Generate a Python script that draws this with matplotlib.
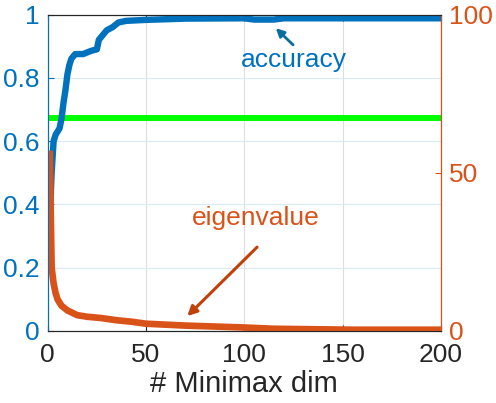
import matplotlib.pyplot as plt

plt.rcParams['font.family'] = ['Liberation Sans', 'DejaVu Sans']

# accuracy vs number of minimax dims (left axis)
acc_dim = [1, 2, 3, 4, 6, 7, 8, 9, 10, 11, 12, 14, 18, 22, 25, 26, 28, 30,
           33, 36, 40, 50, 70, 100, 105, 115, 120, 200]
acc_val = [0.34, 0.50, 0.60, 0.62, 0.64, 0.67, 0.72, 0.76, 0.81, 0.84, 0.86,
           0.875, 0.875, 0.885, 0.89, 0.92, 0.935, 0.95, 0.96, 0.975, 0.98,
           0.983, 0.987, 0.988, 0.984, 0.984, 0.988, 0.988]

# eigenvalue vs number of minimax dims (right axis)
eig_dim = [1, 2, 3, 4, 5, 7, 10, 15, 20, 27, 35, 43, 50, 70, 100, 115, 155, 200]
eig_val = [57, 20, 15, 12, 10, 8, 6.5, 5.0, 4.5, 4.1, 3.4, 2.9, 2.3, 1.7,
           1.1, 0.7, 0.4, 0.4]

# reference level (green)
ref_dim = [0.7, 200]
ref_val = [0.672, 0.672]

blue = '#0072BD'
orange = '#D95319'
dark = '#262626'

fig = plt.figure(figsize=(4.96, 4.03), dpi=100)
ax = fig.add_axes([0.0962, 0.1787, 0.7928, 0.7853])

ax.plot(ref_dim, ref_val, color='#00FF00', lw=4.3, solid_capstyle='butt', zorder=2)
ax.plot(acc_dim, acc_val, color=blue, lw=4.6, zorder=3)
ax.set_xlim(0, 200)
ax.set_ylim(0, 1)
ax.set_xticks([0, 50, 100, 150, 200])
ax.set_yticks([0, 0.2, 0.4, 0.6, 0.8, 1])
ax.set_yticklabels(['0', '0.2', '0.4', '0.6', '0.8', '1'])
ax.xaxis.grid(True, color='#dedede', lw=0.8)
ax.yaxis.grid(True, color='#d9eaf5', lw=0.8)
ax.set_axisbelow(True)
ax.tick_params(axis='y', direction='in', length=4, colors=blue, labelsize=19,
               right=True, labelright=False, pad=6)
ax.tick_params(axis='x', direction='in', length=4, colors=dark, labelsize=19,
               top=True, pad=9)
ax.set_xlabel('# Minimax dim', fontsize=21, color=dark, labelpad=2)
for s in ['top', 'bottom']:
    ax.spines[s].set_color(dark)
ax.spines['left'].set_color(blue)

ax2 = ax.twinx()
ax2.plot(eig_dim, eig_val, color=orange, lw=4.8, solid_capstyle='butt')
ax2.set_ylim(0, 100)
ax2.set_yticks([0, 50, 100])
ax2.tick_params(axis='y', direction='in', length=4, colors=orange, labelsize=19, pad=6)
ax2.spines['right'].set_color(orange)
ax2.spines['left'].set_color(blue)
ax2.spines['top'].set_color(dark)
ax2.spines['bottom'].set_color(dark)

ax.annotate('', xy=(116, 0.957), xytext=(124.8, 0.904),
            arrowprops=dict(arrowstyle='-|>', color='#0a6e9c', lw=2,
                            mutation_scale=12, shrinkA=0, shrinkB=0))
ax.text(125, 0.856, 'accuracy', color=blue, fontsize=19, ha='center', va='center')

ax.annotate('', xy=(71, 0.047), xytext=(106.5, 0.265),
            arrowprops=dict(arrowstyle='-|>', color='#c0400a', lw=2.2,
                            mutation_scale=14, shrinkA=0, shrinkB=0))
ax.text(106, 0.357, 'eigenvalue', color=orange, fontsize=19, ha='center', va='center')

fig.savefig('out.png', dpi=100)
